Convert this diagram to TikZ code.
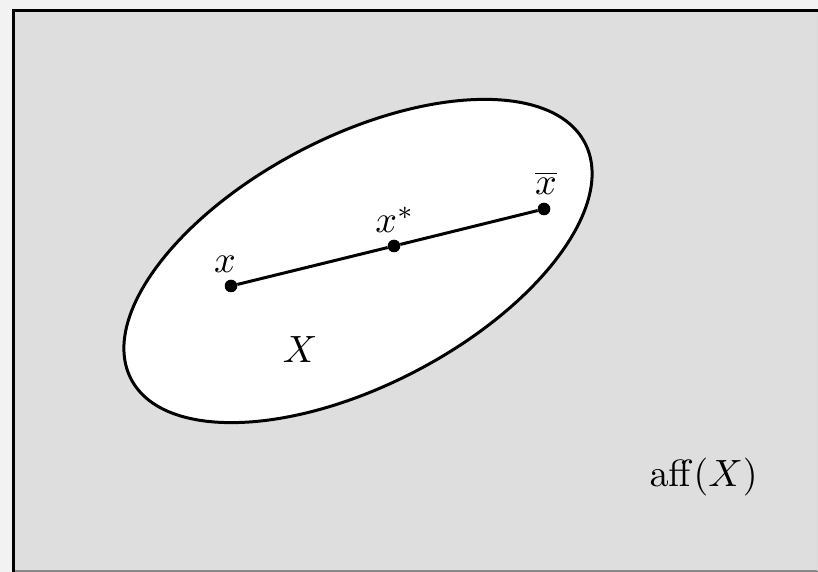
\documentclass[tikz,border=0pt]{standalone}
\usetikzlibrary{shapes.geometric}
\definecolor{pagebg}{HTML}{F2F2F2}
\definecolor{panel}{HTML}{DEDEDE}
\definecolor{edgegray}{HTML}{8A8A8A}
\tikzset{
  dot/.style={circle, fill=black, inner sep=0pt, minimum size=12.6pt},
  lbl/.style={inner sep=0pt, anchor=base, scale=3.8},
  setline/.style={line width=3pt},
}
\begin{document}
\begin{tikzpicture}[x=1pt,y=1pt]
\useasboundingbox (0,0) rectangle (818,572);
\fill[pagebg] (0,0) rectangle (818,572);
\fill[panel] (13,0) rectangle (818,561);
\draw[edgegray, line width=2pt] (13,1) -- (818,1);
\draw[black!15, line width=1pt] (817.5,1) -- (817.5,561);
\draw[black, line width=3pt] (13,0) -- (13,561) -- (818,561);
\node[ellipse, draw, fill=white, setline, inner sep=0pt, minimum width=511.6pt, minimum height=248.8pt, rotate=27.5] (X) at (358,311) {};
\node[dot] (a) at (231,286) {};
\node[dot] (m) at (394,326) {};
\node[dot] (b) at (544,363) {};
\draw[setline] (a) -- (m) -- (b);
\node[lbl] (la) at (225,299) {$x$};
\node[lbl] (lm) at (395,339) {$x^*$};
\node[lbl] (lb) at (546,377) {$\overline{x}$};
\node[lbl] (lX) at (300,209) {$X$};
\node[lbl] (laff) at (703.5,85) {$\mathrm{aff}(X)$};
\end{tikzpicture}
\end{document}
